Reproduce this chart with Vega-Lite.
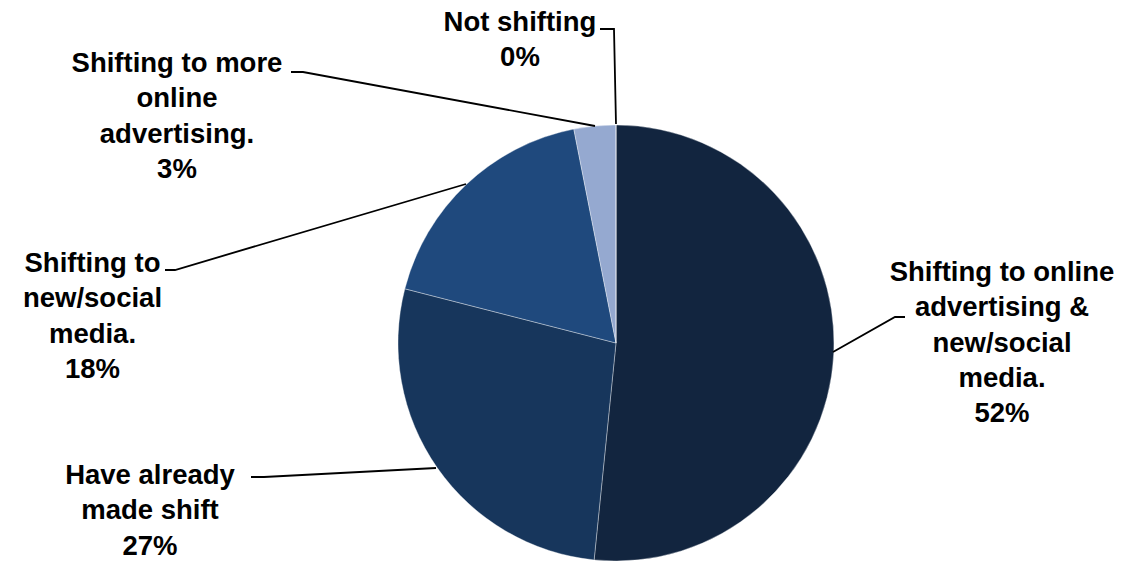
{
  "$schema": "https://vega.github.io/schema/vega-lite/v6.json",
  "width": 1124,
  "height": 561,
  "padding": 0,
  "autosize": {"type": "none"},
  "background": "white",
  "config": {"view": {"stroke": null}},
  "datasets": {
    "slices": [
      {"cat": "Shifting to online advertising & new/social media.", "value": 51.6, "ord": 1},
      {"cat": "Have already made shift", "value": 27.4, "ord": 2},
      {"cat": "Shifting to new/social media.", "value": 17.9, "ord": 3},
      {"cat": "Shifting to more online advertising.", "value": 3.1, "ord": 4},
      {"cat": "Not shifting", "value": 0, "ord": 5}
    ],
    "labels": [
      {"x": -0.4404, "y": 1.4312, "text": "Not shifting\n0%"},
      {"x": -2.0138, "y": 1.2431, "text": "Shifting to more\nonline\nadvertising.\n3%"},
      {"x": -2.4014, "y": 0.3257, "text": "Shifting to\nnew/social\nmedia.\n18%"},
      {"x": -2.1376, "y": -0.6468, "text": "Have already\nmade shift\n27%"},
      {"x": 1.7706, "y": 0.2844, "text": "Shifting to online\nadvertising &\nnew/social\nmedia.\n52%"}
    ],
    "leaders": [
      {"g": "a", "i": 1, "x": -0.0734, "y": 1.4404},
      {"g": "a", "i": 2, "x": -0.0092, "y": 1.4404},
      {"g": "a", "i": 3, "x": 0.0, "y": 1.0046},
      {"g": "b", "i": 1, "x": -1.4908, "y": 1.2431},
      {"g": "b", "i": 2, "x": -1.4358, "y": 1.2431},
      {"g": "b", "i": 3, "x": -0.0963, "y": 0.9954},
      {"g": "c", "i": 1, "x": -2.0688, "y": 0.3349},
      {"g": "c", "i": 2, "x": -2.0229, "y": 0.3349},
      {"g": "c", "i": 3, "x": -0.6881, "y": 0.7294},
      {"g": "d", "i": 1, "x": -1.6743, "y": -0.6147},
      {"g": "d", "i": 2, "x": -1.6147, "y": -0.6147},
      {"g": "d", "i": 3, "x": -0.8257, "y": -0.5734},
      {"g": "e", "i": 1, "x": 0.9954, "y": -0.0413},
      {"g": "e", "i": 2, "x": 1.2798, "y": 0.1193},
      {"g": "e", "i": 3, "x": 1.3257, "y": 0.1193}
    ]
  },
  "layer": [
    {
      "data": {"name": "slices"},
      "mark": {"type": "arc", "outerRadius": 218, "stroke": "#ffffff", "strokeWidth": 0.6, "strokeOpacity": 0.6},
      "encoding": {
        "x": {"datum": 0, "type": "quantitative", "scale": {"domain": [-2.8257, 2.3303], "nice": false, "zero": false}, "axis": null},
        "y": {"datum": 0, "type": "quantitative", "scale": {"domain": [-1.0, 1.5734], "nice": false, "zero": false}, "axis": null},
        "theta": {"field": "value", "type": "quantitative", "stack": true},
        "order": {"field": "ord", "type": "quantitative"},
        "color": {
          "field": "cat",
          "type": "nominal",
          "legend": null,
          "scale": {
            "domain": ["Shifting to online advertising & new/social media.", "Have already made shift", "Shifting to new/social media.", "Shifting to more online advertising.", "Not shifting"],
            "range": ["#12253f", "#17365c", "#1f497d", "#95a9d0", "#c6d2e8"]
          }
        }
      }
    },
    {
      "data": {"name": "leaders"},
      "mark": {"type": "line", "color": "#000000", "strokeWidth": 1.8, "interpolate": "linear"},
      "encoding": {
        "x": {"field": "x", "type": "quantitative", "scale": {"domain": [-2.8257, 2.3303], "nice": false, "zero": false}, "axis": null},
        "y": {"field": "y", "type": "quantitative", "scale": {"domain": [-1.0, 1.5734], "nice": false, "zero": false}, "axis": null},
        "detail": {"field": "g", "type": "nominal"},
        "order": {"field": "i", "type": "quantitative"}
      }
    },
    {
      "data": {"name": "labels"},
      "mark": {"type": "text", "font": "Liberation Sans", "fontWeight": "bold", "fontSize": 27.5, "lineBreak": "\n", "lineHeight": 35.3, "align": "center", "baseline": "alphabetic", "color": "#000000"},
      "encoding": {
        "x": {"field": "x", "type": "quantitative", "scale": {"domain": [-2.8257, 2.3303], "nice": false, "zero": false}, "axis": null},
        "y": {"field": "y", "type": "quantitative", "scale": {"domain": [-1.0, 1.5734], "nice": false, "zero": false}, "axis": null},
        "text": {"field": "text", "type": "nominal"}
      }
    }
  ]
}
